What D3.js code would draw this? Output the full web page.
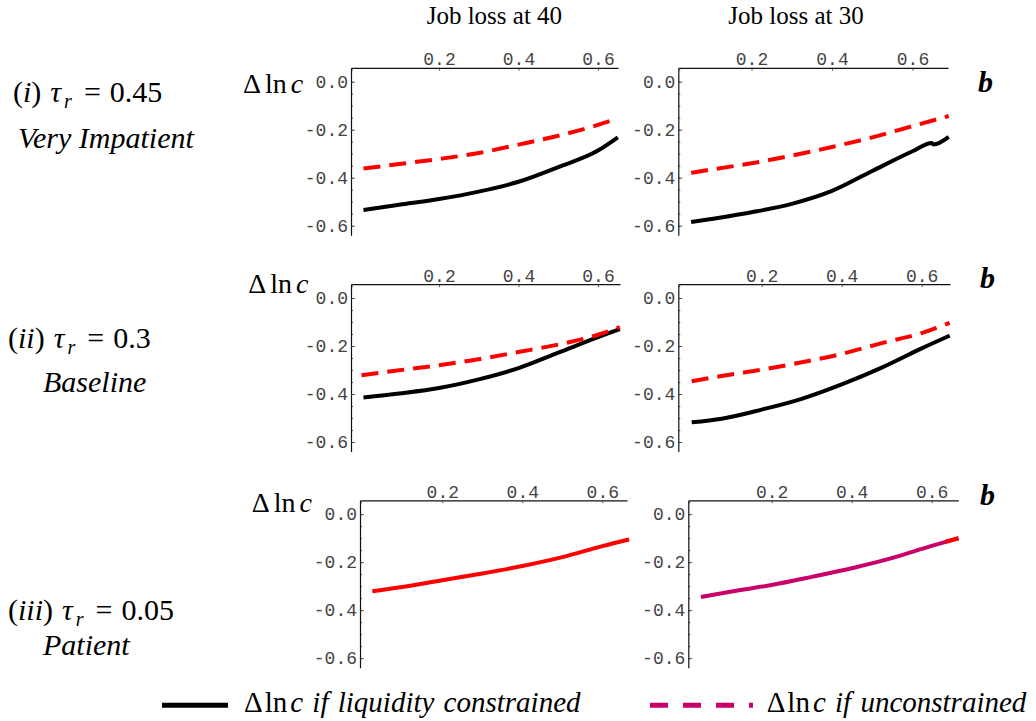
<!DOCTYPE html>
<html>
<head>
<meta charset="utf-8">
<script src="https://cdn.jsdelivr.net/npm/d3@7"></script>
<style>
  body { margin: 0; background: #fff; }
  svg { display: block; }
</style>
</head>
<body>
<svg id="chart" width="1036" height="721"></svg>
<script>
// ---------------- DATA ----------------
const columnTitles = ["Job loss at 40", "Job loss at 30"];
const rowNumerals = ["i", "ii", "iii"];
const rowTau = ["0.45", "0.3", "0.05"];
const rowNames = ["Very Impatient", "Baseline", "Patient"];
const xTicks = [0.2, 0.4, 0.6];
const yTicks = [0.0, -0.2, -0.4, -0.6];
const yMinorTicks = [0.05, 0, -0.05, -0.1, -0.15, -0.2, -0.25, -0.3, -0.35, -0.4, -0.45, -0.5, -0.55, -0.6];

// (i) tau=0.45, job loss at 40
const xC40_045 = [0.01, 0.1, 0.2, 0.3, 0.4, 0.5, 0.6, 0.65];
const c40_045  = [-0.535, -0.513, -0.489, -0.458, -0.417, -0.356, -0.287, -0.232];
const xU40_045 = [0.01, 0.1, 0.2, 0.3, 0.4, 0.5, 0.6, 0.65];
const u40_045  = [-0.362, -0.343, -0.322, -0.297, -0.262, -0.225, -0.180, -0.153];
// (i) tau=0.45, job loss at 30
const xC30_045 = [0.05, 0.1, 0.2, 0.3, 0.4, 0.5, 0.6, 0.648, 0.652, 0.69];
const c30_045  = [-0.585, -0.572, -0.544, -0.509, -0.455, -0.372, -0.290, -0.255, -0.262, -0.230];
const xU30_045 = [0.05, 0.1, 0.2, 0.3, 0.4, 0.5, 0.6, 0.69];
const u30_045  = [-0.380, -0.366, -0.340, -0.308, -0.272, -0.232, -0.185, -0.143];
// (ii) tau=0.3, job loss at 40
const xC40_03 = [0.01, 0.1, 0.2, 0.3, 0.4, 0.5, 0.6, 0.655];
const c40_03  = [-0.415, -0.398, -0.375, -0.339, -0.292, -0.228, -0.163, -0.130];
const xU40_03 = [0.005, 0.1, 0.2, 0.3, 0.4, 0.5, 0.6, 0.655];
const u40_03  = [-0.322, -0.301, -0.280, -0.255, -0.225, -0.194, -0.153, -0.121];
// (ii) tau=0.3, job loss at 30
const xC30_03 = [0.025, 0.1, 0.2, 0.3, 0.4, 0.5, 0.6, 0.67];
const c30_03  = [-0.518, -0.503, -0.465, -0.420, -0.360, -0.290, -0.210, -0.157];
const xU30_03 = [0.025, 0.1, 0.2, 0.3, 0.4, 0.5, 0.6, 0.67];
const u30_03  = [-0.347, -0.325, -0.299, -0.268, -0.233, -0.188, -0.146, -0.104];
// (iii) tau=0.05 (curves coincide)
const x40_005 = [0.025, 0.1, 0.2, 0.3, 0.4, 0.5, 0.6, 0.667];
const v40_005 = [-0.321, -0.303, -0.275, -0.247, -0.216, -0.179, -0.133, -0.105];
const x30_005 = [0.023, 0.1, 0.2, 0.3, 0.4, 0.5, 0.6, 0.635, 0.667];
const v30_005 = [-0.345, -0.322, -0.295, -0.261, -0.225, -0.183, -0.132, -0.115, -0.100];

const legendLabels = ["if liquidity constrained", "if unconstrained"];

// ---------------- LAYOUT ----------------
const RED = "#ff0000", BLACK = "#000000", MAGENTA = "#c8006a";
const zip = (xs, ys) => xs.map((x, i) => ({x, y: ys[i]}));

const rowZeroY = [81.7, 298.0, 514.2];
const yPerUnit = 240;
const yDomain = [-0.64, 0.058];

const panels = [
  {row:0, col:0, axisX:351,   x0:359.5, k:397.5, right:618,
   series:[{d:zip(xU40_045,u40_045), c:RED, dash:true},{d:zip(xC40_045,c40_045), c:BLACK}]},
  {row:0, col:1, axisX:678.3, x0:671,   k:402.5, right:948,
   series:[{d:zip(xU30_045,u30_045), c:RED, dash:true},{d:zip(xC30_045,c30_045), c:BLACK}]},
  {row:1, col:0, axisX:351,   x0:359.5, k:397.5, right:620,
   series:[{d:zip(xC40_03,c40_03), c:BLACK},{d:zip(xU40_03,u40_03), c:RED, dash:true}]},
  {row:1, col:1, axisX:678.3, x0:681.7, k:400,   right:950,
   series:[{d:zip(xU30_03,u30_03), c:RED, dash:true},{d:zip(xC30_03,c30_03), c:BLACK}]},
  {row:2, col:0, axisX:360,   x0:362.3, k:400,   right:627,
   series:[{d:zip(x40_005,v40_005), c:RED}]},
  {row:2, col:1, axisX:688.3, x0:691.7, k:400,   right:958.3,
   series:[{d:zip(x30_005,v30_005), c:MAGENTA},
           {d:zip(x30_005,v30_005).filter(p => p.x >= 0.635), c:RED}]}
];

const svg = d3.select("#chart");
svg.append("rect").attr("width",1036).attr("height",721).attr("fill","#fff");

const fmt = d => d.toFixed(1);
const serif = "Liberation Serif, Times New Roman, serif";

panels.forEach(p => {
  const x = d3.scaleLinear()
    .domain([(p.axisX - p.x0)/p.k, (p.right - p.x0)/p.k])
    .range([p.axisX, p.right]);
  const z = rowZeroY[p.row];
  const y = d3.scaleLinear().domain(yDomain)
    .range([z - yDomain[0]*yPerUnit, z - yDomain[1]*yPerUnit]);
  const topY = y(yDomain[1]);

  const g = svg.append("g");

  const gx = g.append("g").attr("transform", `translate(0,${topY})`)
    .call(d3.axisTop(x).tickValues(xTicks).tickFormat(fmt)
      .tickSizeInner(-3).tickSizeOuter(0).tickPadding(2.5));
  const gym = g.append("g").attr("transform", `translate(${p.axisX},0)`)
    .call(d3.axisLeft(y).tickValues(yMinorTicks).tickFormat("")
      .tickSizeInner(-2).tickSizeOuter(0));
  gym.select(".domain").remove();
  const gy = g.append("g").attr("transform", `translate(${p.axisX},0)`)
    .call(d3.axisLeft(y).tickValues(yTicks).tickFormat(fmt)
      .tickSizeInner(-4).tickSizeOuter(0).tickPadding(3));

  [gx, gy, gym].forEach(a => {
    a.selectAll(".domain").attr("stroke","#111").attr("stroke-width",1.2);
    a.selectAll(".tick line").attr("stroke","#333").attr("stroke-width",0.8);
    a.selectAll("text")
      .attr("font-family","Liberation Mono, Courier New, monospace")
      .attr("font-size",18).attr("fill","#444");
  });

  const line = d3.line().x(d => x(d.x)).y(d => y(d.y)).curve(d3.curveMonotoneX);
  p.series.forEach(s => {
    g.append("path").datum(s.d)
      .attr("d", line)
      .attr("fill","none")
      .attr("stroke", s.c)
      .attr("stroke-width", 4)
      .attr("stroke-linecap", "butt")
      .attr("stroke-dasharray", s.dash ? "17,9" : null);
  });
});

// Δ ln c labels (left column)
const dlnPos = [[243, 92.7], [248.3, 293.3], [251.7, 511.7]];
dlnPos.forEach(([px, py]) => {
  const t = svg.append("text").attr("x", px).attr("y", py)
    .attr("font-family", serif).attr("font-size", 28).attr("fill","#000");
  t.append("tspan").text("Δ");
  t.append("tspan").attr("dx", 4).text("ln");
  t.append("tspan").attr("dx", 4).attr("font-style","italic").text("c");
});

// b labels (right column)
const bPos = [[978, 91.7], [980, 288.3], [980, 505]];
bPos.forEach(([px, py]) => {
  svg.append("text").attr("x", px).attr("y", py)
    .attr("font-family", serif).attr("font-size", 30)
    .attr("font-weight","bold").attr("font-style","italic").text("b");
});

// column titles
const titleX = [426.7, 728.3];
columnTitles.forEach((t, i) => {
  svg.append("text").attr("x", titleX[i]).attr("y", 23.5)
    .attr("font-family", serif).attr("font-size", 25).text(t);
});

// row labels
const rowLab = [
  {x:13, y:101.7, nx:18, ny:148.3},
  {x:8,  y:348.3, nx:43, ny:391.7},
  {x:8,  y:620,   nx:43, ny:655}
];
rowLab.forEach((r, i) => {
  const t = svg.append("text").attr("x", r.x).attr("y", r.y)
    .attr("font-family", serif).attr("font-size", 30).attr("fill","#000");
  t.append("tspan").text("(");
  t.append("tspan").attr("font-style","italic").text(rowNumerals[i]);
  t.append("tspan").text(")");
  t.append("tspan").attr("dx", 9).attr("font-style","italic").text("τ");
  t.append("tspan").attr("dx", 3).attr("dy", 6).attr("font-size", 20)
    .attr("font-style","italic").text("r");
  t.append("tspan").attr("dx", 12).attr("dy", -6).text("=");
  t.append("tspan").attr("dx", 9).text(rowTau[i]);
  svg.append("text").attr("x", r.nx).attr("y", r.ny)
    .attr("font-family", serif).attr("font-size", 30)
    .attr("font-style","italic").text(rowNames[i]);
});

// legend
const legY = 705.3;
svg.append("line").attr("x1",162).attr("x2",228).attr("y1",legY).attr("y2",legY)
  .attr("stroke",BLACK).attr("stroke-width",5);
svg.append("line").attr("x1",650).attr("x2",753).attr("y1",legY).attr("y2",legY)
  .attr("stroke",MAGENTA).attr("stroke-width",5).attr("stroke-dasharray","18,15");
const legX = [244, 766.7];
legendLabels.forEach((lab, i) => {
  const t = svg.append("text").attr("x", legX[i]).attr("y", 711.5)
    .attr("font-family", serif).attr("font-size", 29).attr("fill","#000")
    .attr("word-spacing", 2);
  t.append("tspan").text("Δ");
  t.append("tspan").attr("dx", 2).text("ln");
  t.append("tspan").attr("dx", 3).attr("font-style","italic").text("c " + lab);
});
</script>
</body>
</html>
